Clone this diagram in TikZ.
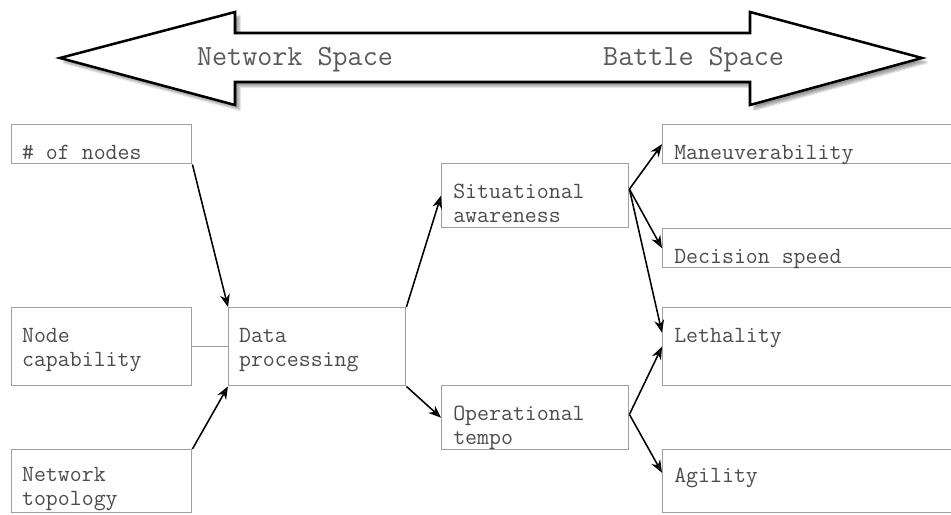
\documentclass[tikz,border=0pt]{standalone}
\usepackage{fontspec}
\usetikzlibrary{arrows.meta,calc,shadows.blur}

\begin{document}
\begin{tikzpicture}[>={Stealth[length=9pt,width=7pt]},
  box/.style={draw=gray!75,line width=1pt,anchor=north west,inner sep=0pt},
  txt/.style={anchor=north west,align=left,inner sep=0pt,text=black!70,font=\ttfamily\fontsize{16.5}{17}\selectfont},
  hd/.style={text=black!65,font=\ttfamily\fontsize{20.8}{22}\selectfont},
  conn/.style={->,line width=1.1pt}]
\useasboundingbox (0,0) rectangle (23.775,-12.875);
\clip (0,0) rectangle (23.775,-12.875);
% the double arrow across the top
\draw[line width=1.8pt,fill=white,blur shadow={shadow xshift=3pt,shadow yshift=-3pt,shadow blur steps=6,shadow opacity=40}]
  (1.5,-1.45) -- (5.875,-0.3) -- (5.875,-0.825) -- (18.75,-0.825) -- (18.75,-0.3) -- (23.05,-1.45)
  -- (18.75,-2.625) -- (18.75,-2.05) -- (5.875,-2.05) -- (5.875,-2.625) -- cycle;
\node[hd] (net) at (7.375,-1.5) {Network Space};
\node[hd] (bat) at (17.34,-1.5) {Battle Space};
% network side
\node[box,minimum width=4.5cm,minimum height=0.975cm] (N) at (0.275,-3.1) {};
\node[box,minimum width=4.5cm,minimum height=1.95cm] (C) at (0.275,-7.675) {};
\node[box,minimum width=4.5cm,minimum height=1.575cm] (T) at (0.275,-11.225) {};
\node[box,minimum width=4.425cm,minimum height=1.95cm] (D) at (5.7,-7.675) {};
\node[box,minimum width=4.675cm,minimum height=1.6cm] (S) at (11.025,-4.075) {};
\node[box,minimum width=4.675cm,minimum height=1.6cm] (O) at (11.025,-9.625) {};
% battle side
\node[box,minimum width=8cm,minimum height=0.975cm] (M) at (16.55,-3.1) {};
\node[box,minimum width=8cm,minimum height=0.975cm] (Dc) at (16.55,-5.7) {};
\node[box,minimum width=8cm,minimum height=1.95cm] (L) at (16.55,-7.675) {};
\node[box,minimum width=8cm,minimum height=1.575cm] (A) at (16.55,-11.225) {};
% labels
\node[txt] (Nt) at ($(N.north west)+(0.27,-0.53)$) {\# of nodes};
\node[txt] (Ct) at ($(C.north west)+(0.27,-0.53)$) {Node\\capability};
\node[txt] (Tt) at ($(T.north west)+(0.27,-0.46)$) {Network\\topology};
\node[txt] (Dt) at ($(D.north west)+(0.27,-0.53)$) {Data\\processing};
\node[txt] (St) at ($(S.north west)+(0.3,-0.53)$) {Situational\\awareness};
\node[txt] (Ot) at ($(O.north west)+(0.3,-0.53)$) {Operational\\tempo};
\node[txt] (Mt) at ($(M.north west)+(0.3,-0.53)$) {Maneuverability};
\node[txt] (Dct) at ($(Dc.north west)+(0.3,-0.53)$) {Decision speed};
\node[txt] (Lt) at ($(L.north west)+(0.3,-0.53)$) {Lethality};
\node[txt] (At) at ($(A.north west)+(0.3,-0.46)$) {Agility};
% connectors
\draw[conn] (N.south east) -- (D.north west);
\draw[line width=1pt,draw=gray!75] (C.east) -- (D.west);
\draw[conn] (T.north east) -- (D.south west);
\draw[conn] (D.north east) -- (S.west);
\draw[conn] (D.south east) -- (O.west);
\draw[conn] (S.4) -- (M.west);
\draw[conn] (S.4) -- (Dc.west);
\draw[conn] (S.4) -- (L.175);
\draw[conn] (O.2) -- (L.west);
\draw[conn] (O.2) -- (A.177);
\end{tikzpicture}
\end{document}
